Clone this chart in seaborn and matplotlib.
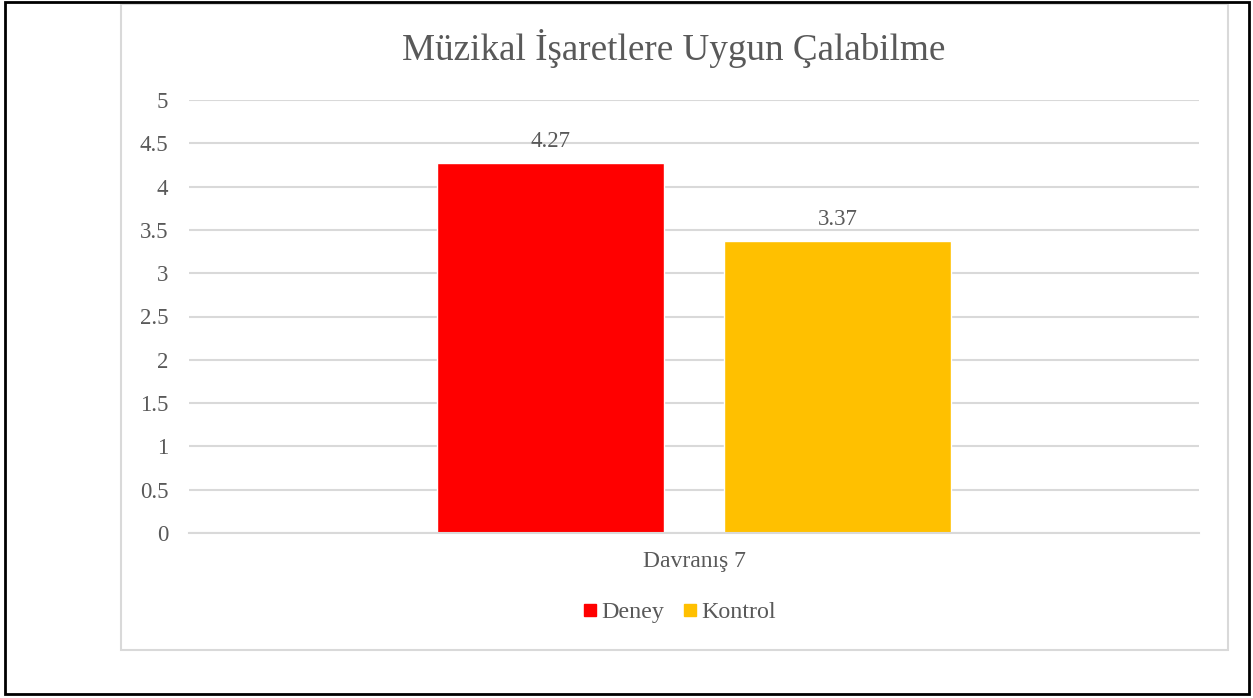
import matplotlib
matplotlib.use("Agg")
import matplotlib.pyplot as plt
from matplotlib.patches import Rectangle
from matplotlib.lines import Line2D
import seaborn as sns
import pandas as pd

# values
categories = ["Davranış 7"]
groups = ["Deney", "Kontrol"]
values = [4.27, 3.37]
colors = ["#FF0000", "#FFC000"]
yticks = [0, 0.5, 1, 1.5, 2, 2.5, 3, 3.5, 4, 4.5, 5]

df = pd.DataFrame({"cat": categories * len(groups), "grup": groups, "deger": values})

sns.set_style("white")
plt.rcParams["font.family"] = ["Liberation Serif", "DejaVu Serif"]
txt = "#595959"
grid = "#D9D9D9"

fig = plt.figure(figsize=(12.53, 6.98), dpi=100)
ax = fig.add_axes([189 / 1253, 1 - 533 / 698, 1010 / 1253, 433 / 698])

sns.barplot(data=df, x="cat", y="deger", hue="grup", palette=colors,
            width=0.568, gap=0.21, legend=False, ax=ax, saturation=1)

ax.set_xlim(-0.5, 0.5)
ax.set_ylim(0, 5)
ax.set_yticks(yticks)
ax.set_yticklabels([f"{t:g}" for t in yticks], color=txt, fontsize=16.5)
ax.tick_params(axis="x", colors=txt, labelsize=17, length=0, pad=13)
ax.tick_params(axis="y", length=0, pad=15)
ax.set_xlabel("")
ax.set_ylabel("")
ax.yaxis.grid(True, color=grid, linewidth=1.5)
ax.set_axisbelow(True)
for s in ["top", "right", "left"]:
    ax.spines[s].set_visible(False)
ax.spines["bottom"].set_color(grid)
ax.spines["bottom"].set_linewidth(1.5)

for c in ax.containers:
    ax.bar_label(c, labels=[f"{v:.2f}" for v in c.datavalues], padding=8,
                 color=txt, fontsize=16.5)

fig.text(674 / 1253, 1 - 48 / 698, "Müzikal İşaretlere Uygun Çalabilme",
         ha="center", va="center", fontsize=26.7, color=txt)

handles = [Line2D([], [], marker="s", linestyle="", markersize=8.5,
                  markerfacecolor=c, markeredgecolor=c) for c in colors]
fig.legend(handles, groups, loc="center", bbox_to_anchor=(677 / 1253, 1 - 612 / 698),
           ncol=2, frameon=False, fontsize=17.3, labelcolor=txt,
           handletextpad=0.0, columnspacing=0.55, handlelength=1.0)

# chart area frame and outer page border
fig.patches.append(Rectangle((121 / 1253, 1 - 650 / 698), 1107 / 1253, 646 / 698,
                             transform=fig.transFigure, fill=False,
                             edgecolor=grid, linewidth=1.5))
fig.patches.append(Rectangle((5 / 1253, 1 - 694 / 698), 1244 / 1253, 692 / 698,
                             transform=fig.transFigure, fill=False,
                             edgecolor="black", linewidth=2))

fig.savefig("out.png", dpi=100)
